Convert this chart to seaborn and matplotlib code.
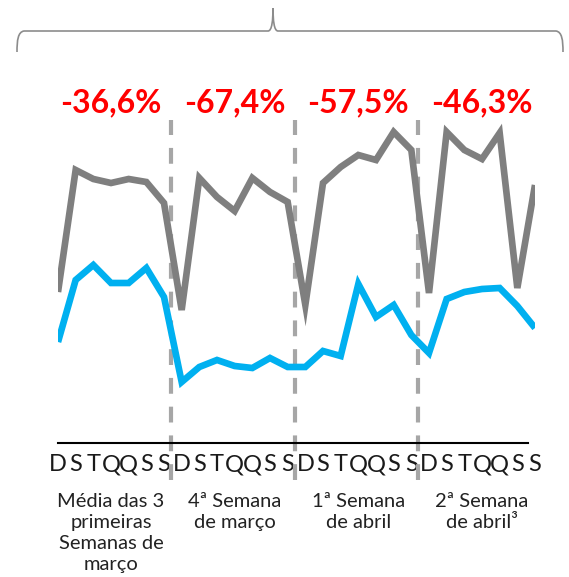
import numpy as np
import pandas as pd
import matplotlib
matplotlib.use("Agg")
import matplotlib.pyplot as plt
import seaborn as sns
from matplotlib.path import Path
from matplotlib.patches import PathPatch

# dados (escala arbitrária)
dias = ['D', 'S', 'T', 'Q', 'Q', 'S', 'S']
semanas = ['Média das 3\nprimeiras\nSemanas de\nmarço', '4ª Semana\nde março',
           '1ª Semana\nde abril', '2ª Semana\nde abril³']
variacao = ['-36,6%', '-67,4%', '-57,5%', '-46,3%']
serie_cinza = [151, 273, 264, 260, 264, 261, 240,
               133, 265, 246, 232, 265, 251, 241,
               138, 260, 276, 288, 283, 311, 293,
               150, 311, 293, 284, 310, 155, 258]
serie_azul = [101, 163, 178, 160, 160, 175, 146,
              61, 76, 83, 77, 75, 85, 76,
              76, 92, 87, 159, 126, 138, 108,
              90, 144, 151, 154, 155, 137, 115]

n = len(serie_cinza)
df = pd.DataFrame({
    'idx': list(range(n)) * 2,
    'valor': serie_cinza + serie_azul,
    'serie': ['cinza'] * n + ['azul'] * n,
})

sns.set_style('white')
plt.rcParams['font.family'] = ['Lato', 'DejaVu Sans']

fig = plt.figure(figsize=(5.69, 5.77), dpi=100)
W, H = 569, 577
x0, x1 = 58, 535
ybase, ytop = 443, 80
ax = fig.add_axes([x0 / W, (H - ybase) / H, (x1 - x0) / W, (ybase - ytop) / H])

sns.lineplot(data=df, x='idx', y='valor', hue='serie',
             palette={'cinza': '#7f7f7f', 'azul': '#00b0f0'},
             linewidth=4.8, legend=False, ax=ax)
for l in ax.lines:
    l.set_solid_capstyle('butt')
    l.set_solid_joinstyle('miter')

ax.set_xlim(0, n - 1)
ax.set_ylim(0, ybase - ytop)

# separadores das semanas
for k in range(1, 4):
    ax.plot([7 * k - 0.6] * 2, [-37, 323], color='#a6a6a6', lw=3,
            linestyle=(0, (3.8, 3.1)), clip_on=False, zorder=1)

# eixo
sns.despine(ax=ax, left=True, top=True, right=True)
ax.spines['bottom'].set_color('black')
ax.spines['bottom'].set_linewidth(1.5)
ax.spines['bottom'].set_bounds(0, n - 1.4)
ax.set_yticks([])
ax.set_xticks(range(n))
ax.set_xticklabels(dias * 4, fontsize=17, color='#1a1a1a')
ax.tick_params(axis='x', length=0, pad=8)
ax.set_xlabel('')
ax.set_ylabel('')

# rótulos de semana e variação
span = ybase - ytop
for k in range(4):
    cx = 7 * k + 3
    ax.text(cx, (ybase - 103) / span, variacao[k],
            transform=ax.get_xaxis_transform(), ha='center', va='center',
            fontsize=23, fontweight='bold', color='#ff0000')
    ax.text(cx, -(493 - ybase) / span, semanas[k],
            transform=ax.get_xaxis_transform(), ha='center', va='top',
            fontsize=14.5, linespacing=1.28, color='#222222')

# chave no topo
def fx(px):
    return px / W

def fy(py):
    return 1 - py / H

verts = [(17, 52), (17, 40), (18, 32), (24, 31),
         (268, 31), (272, 31), (273, 20), (273, 8),
         (273, 20), (274, 31), (278, 31),
         (556, 31), (562, 32), (563, 40), (563, 52)]
codes = [Path.MOVETO, Path.CURVE4, Path.CURVE4, Path.CURVE4,
         Path.LINETO, Path.CURVE4, Path.CURVE4, Path.CURVE4,
         Path.CURVE4, Path.CURVE4, Path.CURVE4,
         Path.LINETO, Path.CURVE4, Path.CURVE4, Path.CURVE4]
path = Path([(fx(a), fy(b)) for a, b in verts], codes)
fig.add_artist(PathPatch(path, fc='none', ec='#8c8c8c', lw=1.2,
                         transform=fig.transFigure))

fig.savefig('out.png', dpi=100)
